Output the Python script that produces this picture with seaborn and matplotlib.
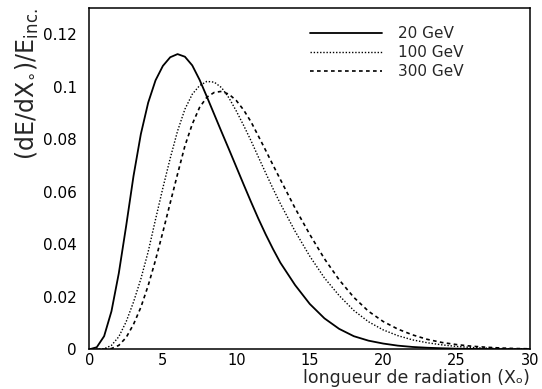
import numpy as np
import pandas as pd
import matplotlib
matplotlib.use("Agg")
import matplotlib.pyplot as plt
import seaborn as sns

# depth in radiation lengths (half steps up to 13, then unit steps)
depth = [0, 0.5, 1, 1.5, 2, 2.5, 3, 3.5, 4, 4.5, 5, 5.5, 6, 6.5, 7, 7.5, 8, 8.5,
         9, 9.5, 10, 10.5, 11, 11.5, 12, 12.5, 13,
         14, 15, 16, 17, 18, 19, 20, 21, 22, 23, 24, 25, 26, 27, 28, 29, 30]

# energy fraction deposited per X0
e20 = [0, 0.0008, 0.005, 0.0145, 0.029, 0.047, 0.066, 0.082, 0.094, 0.1025,
       0.108, 0.1113, 0.1125, 0.1115, 0.1082, 0.1027, 0.0962, 0.0895, 0.0828,
       0.0762, 0.0695, 0.0628, 0.0562, 0.0498, 0.0438, 0.0382, 0.033,
       0.0245, 0.0173, 0.0118, 0.0078, 0.005, 0.0033, 0.0022, 0.0014, 0.0009,
       0.0006, 0.0004, 0.00025, 0.00015, 0.0001, 0.00005, 0.00003, 0.00002]
e100 = [0, 0, 0.0002, 0.0015, 0.0048, 0.0105, 0.018, 0.0268, 0.0372, 0.0495,
        0.0615, 0.0728, 0.0832, 0.0915, 0.0972, 0.1005, 0.1021, 0.1018, 0.0997,
        0.0958, 0.0908, 0.0853, 0.0795, 0.0733, 0.0672, 0.0612, 0.0555,
        0.045, 0.0355, 0.0272, 0.0205, 0.0148, 0.0105, 0.0074, 0.0052, 0.0036,
        0.0025, 0.0017, 0.0011, 0.0007, 0.00045, 0.0003, 0.0002, 0.0001]
e300 = [0, 0, 0, 0.0003, 0.0015, 0.0045, 0.0095, 0.016, 0.0243, 0.034, 0.0447,
        0.0558, 0.0668, 0.0775, 0.0858, 0.0922, 0.0961, 0.0979, 0.0983, 0.0972,
        0.0948, 0.0912, 0.0867, 0.0813, 0.0758, 0.0702, 0.0647,
        0.0538, 0.0438, 0.0345, 0.0265, 0.0198, 0.0145, 0.0106, 0.0077, 0.0055,
        0.0038, 0.0026, 0.0018, 0.0012, 0.0008, 0.0005, 0.0003, 0.0002]

labels = ["20 GeV", "100 GeV", "300 GeV"]
series = [e20, e100, e300]
styles = ["-", (0, (1, 1.3)), (0, (2.2, 2))]
widths = [1.3, 1.0, 1.2]

sns.set_style("white")
plt.rcParams["font.family"] = ["DejaVu Sans"]

fig = plt.figure(figsize=(5.42, 3.89), dpi=100)
ax = fig.add_axes([0.165, 0.102, 0.813, 0.877])

for lab, vals, ls, lw in zip(labels, series, styles, widths):
    df = pd.DataFrame({"x": depth, "y": vals})
    sns.lineplot(data=df, x="x", y="y", ax=ax, color="black", linestyle=ls,
                 linewidth=lw, label=lab)

ax.set_xlim(0, 30)
ax.set_ylim(0, 0.13)
ax.set_xticks(np.arange(0, 31, 5))
ax.set_xticks(np.arange(0, 31, 1), minor=True)
ax.set_yticks(np.arange(0, 0.121, 0.02))
ax.set_yticks(np.arange(0, 0.1301, 0.005), minor=True)
ax.set_xticklabels([str(v) for v in range(0, 31, 5)])
ax.set_yticklabels(["0", "0.02", "0.04", "0.06", "0.08", "0.1", "0.12"])

ax.tick_params(axis="both", which="both", direction="in", colors="black")
ax.tick_params(axis="y", which="major", length=6.5, width=1, pad=9,
               labelsize=11)
ax.tick_params(axis="y", which="minor", length=4, width=1)
ax.tick_params(axis="x", which="major", length=4.5, width=1, pad=2.5,
               labelsize=10.5)
ax.tick_params(axis="x", which="minor", length=2.3, width=1)
for sp in ax.spines.values():
    sp.set_linewidth(1.1)
    sp.set_color("black")

ax.set_xlabel("longueur de radiation (X\u2092)", fontsize=12.5, loc="right")
ax.set_ylabel("$\\mathrm{(dE/dX_{\\circ})/E_{inc.}}$", fontsize=17, loc="top")
ax.xaxis.set_label_coords(1.0, -0.057)
ax.yaxis.set_label_coords(-0.11, 1.0)

ax.legend(loc="upper left", bbox_to_anchor=(0.5, 0.948), frameon=False,
          fontsize=11, handlelength=4.7, handletextpad=1.05, labelspacing=0.27,
          borderpad=0, borderaxespad=0)

plt.savefig("out.png", dpi=100)
